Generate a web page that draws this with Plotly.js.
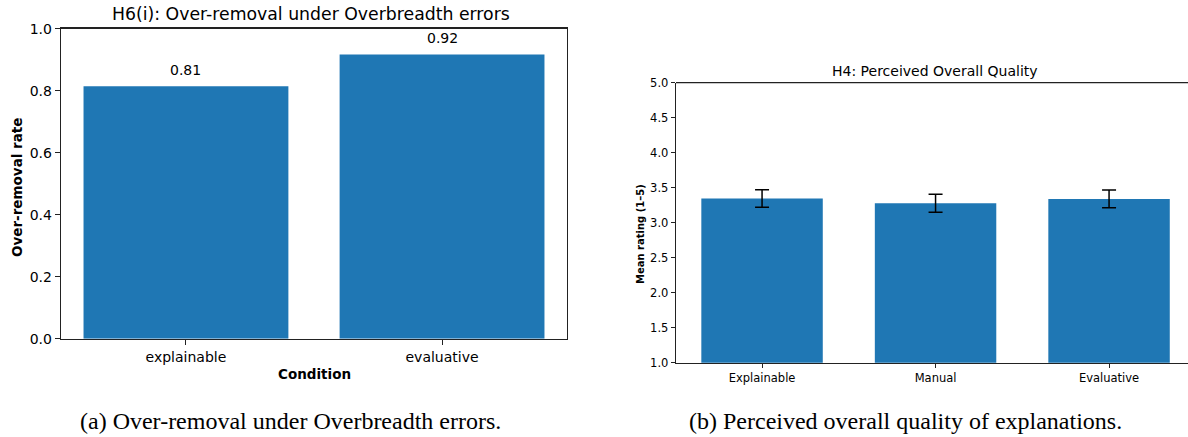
<!DOCTYPE html>
<html>
<head>
<meta charset="utf-8">
<script src="https://cdn.plot.ly/plotly-3.0.1.min.js"></script>
<style>
html, body { margin: 0; padding: 0; background: #fff; overflow: hidden; }
#chart { width: 1188px; height: 437px; }
</style>
</head>
<body>
<div id="chart"></div>
<script>
// Panel (a)
const conditionsA = ["explainable", "evaluative"];
const overRemovalRate = [0.814, 0.917];
const overRemovalLabels = ["0.81", "0.92"];
const yTicksA = [0.0, 0.2, 0.4, 0.6, 0.8, 1.0];

// Panel (b)
const conditionsB = ["Explainable", "Manual", "Evaluative"];
const meanRating = [3.346, 3.277, 3.34];
const ratingError = [0.126, 0.129, 0.126];
const yTicksB = [1.0, 1.5, 2.0, 2.5, 3.0, 3.5, 4.0, 4.5, 5.0];

const W = 1188, H = 437;
const barColor = "#1f77b4";
const axisColor = "#222";
const font = "DejaVu Sans, sans-serif";

const traces = [
  {
    type: "bar", x: conditionsA, y: overRemovalRate,
    xaxis: "x", yaxis: "y", width: 0.8,
    marker: { color: barColor, line: { width: 0 } },
    hoverinfo: "skip"
  },
  {
    type: "bar", x: conditionsB, y: meanRating,
    xaxis: "x2", yaxis: "y2", width: 0.7, base: 0,
    marker: { color: barColor, line: { width: 0 } },
    error_y: { type: "data", array: ratingError, visible: true, color: "#000", thickness: 1.5, width: 7 },
    hoverinfo: "skip"
  }
];

const annotations = [];
overRemovalRate.forEach((v, i) => {
  annotations.push({
    xref: "x", yref: "y", x: conditionsA[i], y: v,
    text: overRemovalLabels[i], showarrow: false,
    yanchor: "bottom", yshift: 6,
    font: { family: font, size: 14, color: "#000" }
  });
});
annotations.push(
  { xref: "paper", yref: "paper", x: 311 / W, y: 1 - 14 / H, text: "H6(i): Over-removal under Overbreadth errors",
    showarrow: false, xanchor: "center", yanchor: "middle", font: { family: font, size: 17.3, color: "#000" } },
  { xref: "paper", yref: "paper", x: 314 / W, y: 1 - 374 / H, text: "<b>Condition</b>",
    showarrow: false, xanchor: "center", yanchor: "middle", font: { family: font, size: 13.5, color: "#000" } },
  { xref: "paper", yref: "paper", x: 17 / W, y: 1 - 188 / H, text: "<b>Over-removal rate</b>", textangle: -90,
    showarrow: false, xanchor: "center", yanchor: "middle", font: { family: font, size: 13.5, color: "#000" } },
  { xref: "paper", yref: "paper", x: 935 / W, y: 1 - 71 / H, text: "H4: Perceived Overall Quality",
    showarrow: false, xanchor: "center", yanchor: "middle", font: { family: font, size: 14, color: "#000" } },
  { xref: "paper", yref: "paper", x: 640 / W, y: 1 - 234 / H, text: "<b>Mean rating (1–5)</b>", textangle: -90,
    showarrow: false, xanchor: "center", yanchor: "middle", font: { family: font, size: 10, color: "#000" } },
  { xref: "paper", yref: "paper", x: 290 / W, y: 1 - 421 / H, text: "(a) Over-removal under Overbreadth errors.",
    showarrow: false, xanchor: "center", yanchor: "middle", font: { family: "Liberation Serif, serif", size: 24, color: "#000" } },
  { xref: "paper", yref: "paper", x: 905 / W, y: 1 - 421 / H, text: "(b) Perceived overall quality of explanations.",
    showarrow: false, xanchor: "center", yanchor: "middle", font: { family: "Liberation Serif, serif", size: 24, color: "#000" } }
);

const layout = {
  width: W, height: H,
  margin: { l: 0, r: 0, t: 0, b: 0 },
  paper_bgcolor: "#fff", plot_bgcolor: "#fff",
  showlegend: false,
  font: { family: font, color: "#000" },
  xaxis: {
    domain: [61 / W, 567 / W], anchor: "y",
    type: "category", range: [-0.488, 1.488],
    showline: true, linecolor: axisColor, linewidth: 1.3, mirror: true,
    ticks: "outside", ticklen: 5, tickwidth: 1, tickcolor: axisColor,
    showgrid: false, zeroline: false, fixedrange: true,
    tickfont: { family: font, size: 14, color: "#000" }
  },
  yaxis: {
    domain: [(H - 338.7) / H, (H - 28.7) / H], anchor: "x",
    range: [0, 1.0], tickvals: yTicksA, ticktext: yTicksA.map(v => v.toFixed(1)),
    showline: true, linecolor: axisColor, linewidth: 1.3, mirror: true,
    ticks: "outside", ticklen: 5, tickwidth: 1, tickcolor: axisColor,
    showgrid: false, zeroline: false, fixedrange: true,
    tickfont: { family: font, size: 14, color: "#000" }
  },
  xaxis2: {
    domain: [676 / W, 1], anchor: "y2",
    type: "category", range: [-0.496, 2.455],
    showline: true, linecolor: axisColor, linewidth: 1.3,
    ticks: "outside", ticklen: 4, tickwidth: 1, tickcolor: axisColor,
    showgrid: false, zeroline: false, fixedrange: true,
    tickfont: { family: font, size: 11.5, color: "#000" }
  },
  yaxis2: {
    domain: [(H - 362.7) / H, (H - 82.7) / H], anchor: "x2",
    range: [1.0, 5.0], tickvals: yTicksB, ticktext: yTicksB.map(v => v.toFixed(1)),
    showline: true, linecolor: axisColor, linewidth: 1.3,
    ticks: "outside", ticklen: 4, tickwidth: 1, tickcolor: axisColor,
    showgrid: false, zeroline: false, fixedrange: true,
    tickfont: { family: font, size: 11.5, color: "#000" }
  },
  shapes: [
    { type: "line", xref: "x2 domain", yref: "y2 domain", x0: 0, x1: 1, y0: 1, y1: 1,
      line: { color: axisColor, width: 1.3 } }
  ],
  annotations: annotations
};

Plotly.newPlot("chart", traces, layout, { staticPlot: true, displayModeBar: false });
</script>
</body>
</html>
